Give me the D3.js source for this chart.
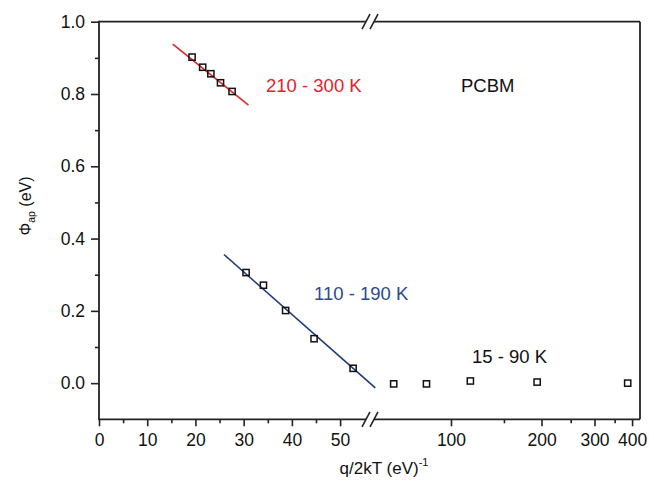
<!DOCTYPE html>
<html>
<head>
<meta charset="utf-8">
<script src="https://cdn.jsdelivr.net/npm/d3@7"></script>
<style>
  html, body { margin: 0; padding: 0; background: #fff; }
  svg text { font-family: "Liberation Sans", Arial, sans-serif; }
</style>
</head>
<body>
<svg id="chart" width="649" height="481"></svg>
<script>
// Apparent barrier height vs q/2kT for PCBM, three temperature regimes
const highT_x = [19.3, 21.5, 23.2, 25.2, 27.6];          // 300, 270, 250, 230, 210 K
const highT_y = [0.902, 0.874, 0.856, 0.831, 0.807];
const midT_x  = [30.5, 34.1, 38.7, 44.6, 52.7];          // 190, 170, 150, 130, 110 K
const midT_y  = [0.306, 0.271, 0.201, 0.123, 0.041];
const lowT_x  = [64.5, 82.9, 116, 193.4, 386.8];         // 90, 70, 50, 30, 15 K
const lowT_y  = [-0.002, -0.002, 0.006, 0.003, 0.0];

// Linear fits drawn as segments
const highFit_x = [15.3, 31.0];
const highFit_y = [0.938, 0.769];
const midFit_x  = [25.9, 57.3];
const midFit_y  = [0.356, -0.013];

const yTicks = [0.0, 0.2, 0.4, 0.6, 0.8, 1.0];
const yMinor = [0.1, 0.3, 0.5, 0.7, 0.9];
const xTicksLin = [0, 10, 20, 30, 40, 50];
const xMinorLin = [5, 15, 25, 35, 45];
const xTicksLog = [100, 200, 300, 400];
const xMinorLog = [150, 250, 350];

const svg = d3.select("#chart");
const pLeft = 99, pRight = 640, pTop = 21.7, pBottom = 419.3, brk = 370;

const y = d3.scaleLinear().domain([-0.1, 1.0]).range([pBottom, pTop]);
const xLin = d3.scaleLinear().domain([0, 56.2]).range([pLeft, brk]);
const xLog = d3.scaleLog().domain([53.8, 425]).range([brk, pRight]);

const axisColor = "#222";
const fontTick = 17.5;

// frame: top and right borders
const frame = svg.append("g").attr("stroke", axisColor).attr("stroke-width", 1.8).attr("fill", "none");
const gapL = brk - 4, gapR = brk + 4;
frame.append("line").attr("x1", pLeft).attr("x2", gapL).attr("y1", pTop).attr("y2", pTop);
frame.append("line").attr("x1", gapR).attr("x2", pRight).attr("y1", pTop).attr("y2", pTop);
frame.append("line").attr("x1", pRight).attr("x2", pRight).attr("y1", pTop).attr("y2", pBottom);

// y axis
const yAxis = svg.append("g").attr("transform", `translate(${pLeft},0)`)
  .call(d3.axisLeft(y).tickValues(yTicks).tickFormat(d3.format(".1f")).tickSize(8).tickPadding(6).tickSizeOuter(0));
yAxis.select(".domain").remove();
svg.append("g").attr("transform", `translate(${pLeft},0)`)
  .call(d3.axisLeft(y).tickValues(yMinor).tickFormat("").tickSize(4).tickSizeOuter(0))
  .select(".domain").remove();
svg.append("line").attr("x1", pLeft).attr("x2", pLeft).attr("y1", pTop - 0.9).attr("y2", pBottom + 0.9)
  .attr("stroke", axisColor).attr("stroke-width", 1.8);

// x axis, linear part
const xa1 = svg.append("g").attr("transform", `translate(0,${pBottom})`)
  .call(d3.axisBottom(xLin).tickValues(xTicksLin).tickSize(7).tickPadding(7.5).tickSizeOuter(0));
xa1.select(".domain").remove();
svg.append("g").attr("transform", `translate(0,${pBottom})`)
  .call(d3.axisBottom(xLin).tickValues(xMinorLin).tickFormat("").tickSize(4).tickSizeOuter(0))
  .select(".domain").remove();
// x axis, log part
const xa2 = svg.append("g").attr("transform", `translate(0,${pBottom})`)
  .call(d3.axisBottom(xLog).tickValues(xTicksLog).tickFormat(d3.format("d")).tickSize(7).tickPadding(7.5).tickSizeOuter(0));
xa2.select(".domain").remove();
svg.append("g").attr("transform", `translate(0,${pBottom})`)
  .call(d3.axisBottom(xLog).tickValues(xMinorLog).tickFormat("").tickSize(4).tickSizeOuter(0))
  .select(".domain").remove();

svg.selectAll(".tick line").attr("stroke", axisColor).attr("stroke-width", 1.6);
svg.selectAll(".tick text").attr("font-size", fontTick).attr("fill", "#111")
  .attr("font-family", "'Liberation Sans', Arial, sans-serif");

frame.append("line").attr("x1", pLeft).attr("x2", gapL).attr("y1", pBottom).attr("y2", pBottom);
frame.append("line").attr("x1", gapR).attr("x2", pRight).attr("y1", pBottom).attr("y2", pBottom);

// break marks on top and bottom edges
[pTop, pBottom].forEach(yy => {
  [gapL, gapR].forEach(xx => {
    svg.append("line").attr("x1", xx - 4).attr("y1", yy + 7.5).attr("x2", xx + 4).attr("y2", yy - 7.5)
      .attr("stroke", axisColor).attr("stroke-width", 1.6);
  });
});

// fit lines
const line = d3.line();
svg.append("path")
  .attr("d", line(highFit_x.map((v, i) => [xLin(v), y(highFit_y[i])])))
  .attr("stroke", "#e3232a").attr("stroke-width", 1.6).attr("fill", "none");
svg.append("path")
  .attr("d", line(midFit_x.map((v, i) => [xLin(v), y(midFit_y[i])])))
  .attr("stroke", "#1b3a7c").attr("stroke-width", 1.6).attr("fill", "none");

// data markers
const sq = 6.2;
function markers(xs, ys, xScale) {
  svg.append("g").selectAll("rect").data(xs.map((v, i) => [v, ys[i]])).join("rect")
    .attr("x", d => xScale(d[0]) - sq / 2).attr("y", d => y(d[1]) - sq / 2)
    .attr("width", sq).attr("height", sq)
    .attr("fill", "none").attr("stroke", "#111").attr("stroke-width", 1.5);
}
markers(highT_x, highT_y, xLin);
markers(midT_x, midT_y, xLin);
markers(lowT_x, lowT_y, xLog);

// annotations
const fontAnn = 18.5;
svg.append("text").attr("x", 266).attr("y", 92).attr("font-size", fontAnn).attr("fill", "#e3232a").text("210 - 300 K");
svg.append("text").attr("x", 461).attr("y", 92).attr("font-size", fontAnn).attr("fill", "#111").text("PCBM");
svg.append("text").attr("x", 314).attr("y", 299.5).attr("font-size", fontAnn).attr("fill", "#2a4a8c").text("110 - 190 K");
svg.append("text").attr("x", 472).attr("y", 362.5).attr("font-size", fontAnn).attr("fill", "#111").text("15 - 90 K");

// axis titles
const xt = svg.append("text").attr("x", 384).attr("y", 474).attr("text-anchor", "middle")
  .attr("font-size", 17).attr("fill", "#111");
xt.append("tspan").text("q/2kT (eV)");
xt.append("tspan").attr("font-size", 11).attr("dy", -8).text("-1");

const yt = svg.append("text").attr("transform", "translate(31,206) rotate(-90)")
  .attr("text-anchor", "middle").attr("font-size", 16).attr("fill", "#111");
yt.append("tspan").text("Φ");
yt.append("tspan").attr("font-size", 10.5).attr("dy", 4).text("ap");
yt.append("tspan").attr("dy", -4).text(" (eV)");
</script>
</body>
</html>
